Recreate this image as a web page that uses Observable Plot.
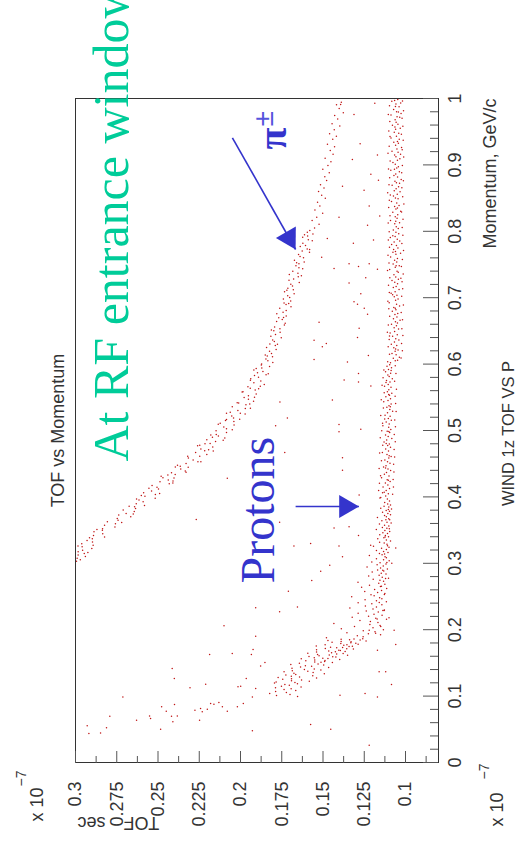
<!DOCTYPE html>
<html><head><meta charset="utf-8">
<script src="https://cdn.jsdelivr.net/npm/d3@7"></script>
<script src="https://cdn.jsdelivr.net/npm/@observablehq/plot@0.6"></script>
<style>
html,body{margin:0;padding:0;background:#fff;overflow:hidden;width:515px;height:847px;}
#rot{position:absolute;left:0;top:0;width:847px;height:515px;transform-origin:0 0;transform:translate(0px,847px) rotate(-90deg);}
</style></head><body><div id="rot"></div>
<script>
// Momentum (GeV/c), TOF (x 1e-7 s)
const flatBand = [
[0.9985,0.1047],[0.9971,0.1066],[0.9932,0.1029],[0.9918,0.1058],[0.9880,0.1061],[0.9874,0.1039],[0.9835,0.1072],[0.9801,0.1054],[0.9795,0.1043],[0.9752,0.1088],
[0.9724,0.1051],[0.9716,0.1035],[0.9680,0.1063],[0.9642,0.1057],[0.9611,0.1046],[0.9597,0.1079],[0.9553,0.1032],[0.9538,0.1060],[0.9492,0.1068],[0.9476,0.1041],
[0.9431,0.1055],[0.9427,0.1094],[0.9388,0.1038],[0.9352,0.1049],[0.9340,0.1071],[0.9296,0.1060],[0.9263,0.1024],[0.9241,0.1052],[0.9207,0.1082],[0.9189,0.1045],
[0.9150,0.1066],[0.9122,0.1058],[0.9093,0.1034],[0.9071,0.1049],[0.9036,0.1076],[0.9011,0.1062],[0.8974,0.1043],[0.8953,0.1053],[0.8921,0.1089],[0.8898,0.1037],
[0.8862,0.1059],[0.8840,0.1070],[0.8817,0.1048],[0.8779,0.1026],[0.8752,0.1064],[0.8733,0.1055],[0.8694,0.1081],[0.8671,0.1042],[0.8640,0.1057],[0.8612,0.1068],
[0.8596,0.1033],[0.8558,0.1050],[0.8531,0.1073],[0.8503,0.1061],[0.8489,0.1045],[0.8447,0.1085],[0.8425,0.1053],[0.8390,0.1039],[0.8372,0.1066],[0.8334,0.1058],
[0.8301,0.1029],[0.8287,0.1077],[0.8249,0.1047],[0.8218,0.1062],[0.8196,0.1051],[0.8163,0.1091],[0.8130,0.1036],[0.8112,0.1065],[0.8070,0.1056],[0.8044,0.1044],
[0.8021,0.1074],[0.9957,0.1083],[0.9773,0.1027],[0.9569,0.1064],[0.9325,0.1043],[0.9160,0.1030],[0.8936,0.1067],[0.8725,0.1036],[0.8547,0.1092],[0.8351,0.1049],[0.8152,0.1059],
[0.7987,0.1058],[0.7962,0.1041],[0.7934,0.1077],[0.7921,0.1063],[0.7880,0.1050],[0.7853,0.1035],[0.7839,0.1069],[0.7801,0.1084],[0.7786,0.1055],[0.7748,0.1046],
[0.7725,0.1072],[0.7697,0.1061],[0.7671,0.1030],[0.7655,0.1058],[0.7612,0.1090],[0.7590,0.1049],[0.7563,0.1066],[0.7538,0.1053],[0.7506,0.1075],[0.7481,0.1038],
[0.7459,0.1062],[0.7426,0.1096],[0.7398,0.1051],[0.7383,0.1044],[0.7345,0.1070],[0.7311,0.1059],[0.7294,0.1028],[0.7258,0.1082],[0.7233,0.1065],[0.7209,0.1048],
[0.7170,0.1057],[0.7152,0.1074],[0.7124,0.1039],[0.7090,0.1063],[0.7067,0.1087],[0.7038,0.1052],[0.7015,0.1068],[0.6981,0.1045],[0.6962,0.1060],[0.6925,0.1099],
[0.6903,0.1054],[0.6874,0.1036],[0.6851,0.1071],[0.6820,0.1058],[0.6796,0.1080],[0.6763,0.1047],[0.6747,0.1064],[0.6711,0.1052],[0.6684,0.1073],[0.6659,0.1033],
[0.6636,0.1061],[0.6602,0.1085],[0.6578,0.1055],[0.6549,0.1069],[0.6527,0.1042],[0.6490,0.1066],[0.6468,0.1093],[0.6441,0.1050],[0.6419,0.1078],[0.6383,0.1059],
[0.6362,0.1040],[0.6331,0.1067],[0.6300,0.1086],[0.6279,0.1053],[0.6247,0.1071],[0.6213,0.1045],[0.6194,0.1063],[0.6158,0.1082],[0.6140,0.1057],[0.6102,0.1037],
[0.6087,0.1074],[0.6052,0.1062],[0.6021,0.1091],[0.7906,0.1092],[0.7684,0.1076],[0.7480,0.1057],[0.7277,0.1043],[0.7044,0.1078],[0.6840,0.1062],[0.6618,0.1049],
[0.6425,0.1097],[0.6229,0.1060],[0.6058,0.1048],
[0.5991,0.1096],[0.5967,0.1112],[0.5944,0.1085],[0.5920,0.1103],[0.5883,0.1121],[0.5861,0.1090],[0.5834,0.1107],[0.5812,0.1099],[0.5779,0.1080],[0.5752,0.1115],
[0.5731,0.1094],[0.5694,0.1105],[0.5668,0.1127],[0.5650,0.1088],[0.5613,0.1101],[0.5585,0.1110],[0.5562,0.1083],[0.5530,0.1097],[0.5507,0.1119],[0.5479,0.1091],
[0.5451,0.1106],[0.5433,0.1132],[0.5398,0.1087],[0.5372,0.1100],[0.5349,0.1113],[0.5316,0.1095],[0.5291,0.1078],[0.5266,0.1109],[0.5230,0.1124],[0.5214,0.1093],
[0.5180,0.1104],[0.5153,0.1086],[0.5127,0.1117],[0.5098,0.1099],[0.5071,0.1137],[0.5049,0.1102],[0.5015,0.1089],[0.4990,0.1111],[0.4968,0.1096],[0.4932,0.1121],
[0.4911,0.1105],[0.4880,0.1083],[0.4858,0.1114],[0.4826,0.1130],[0.4797,0.1098],[0.4773,0.1108],[0.4749,0.1091],[0.4720,0.1120],[0.4691,0.1103],[0.4668,0.1140],
[0.4639,0.1112],[0.4610,0.1087],[0.4587,0.1101],[0.4556,0.1125],[0.4530,0.1109],[0.4508,0.1094],[0.4471,0.1118],[0.4452,0.1133],[0.4420,0.1106],[0.4397,0.1090],
[0.4368,0.1115],[0.4341,0.1128],[0.4315,0.1100],[0.4290,0.1145],[0.4259,0.1111],[0.4233,0.1093],[0.4209,0.1122],[0.4178,0.1107],[0.4150,0.1136],[0.4127,0.1097],
[0.4095,0.1117],[0.4071,0.1129],[0.4046,0.1104],[0.4012,0.1120],[0.3990,0.1150],[0.3968,0.1110],[0.3937,0.1097],[0.3915,0.1126],
[0.5905,0.1087],[0.5723,0.1118],[0.5541,0.1102],[0.5356,0.1092],[0.5172,0.1126],[0.4985,0.1101],[0.4803,0.1117],[0.4620,0.1099],[0.4436,0.1121],[0.4249,0.1104],[0.4063,0.1139],
[0.9963,0.1018],[0.9890,0.1097],[0.9815,0.1012],[0.9760,0.1104],[0.9702,0.1021],[0.9655,0.1095],[0.9583,0.1016],[0.9512,0.1101],[0.9460,0.1025],[0.9404,0.1088],
[0.9370,0.1014],[0.9282,0.1099],[0.9230,0.1020],[0.9176,0.1106],[0.9118,0.1011],[0.9058,0.1093],[0.8990,0.1019],[0.8937,0.1103],[0.8881,0.1023],[0.8806,0.1096],
[0.8760,0.1013],[0.8702,0.1100],[0.8655,0.1022],[0.8582,0.1108],[0.8519,0.1017],[0.8466,0.1098],[0.8410,0.1010],[0.8357,0.1102],[0.8291,0.1024],[0.8233,0.1094],
[0.8180,0.1015],[0.8124,0.1105],[0.8057,0.1020],[0.7993,0.1099],[0.7941,0.1016],[0.7870,0.1104],[0.7818,0.1022],[0.7760,0.1097],[0.7709,0.1012],[0.7640,0.1106],
[0.7576,0.1019],[0.7522,0.1100],[0.7470,0.1025],[0.7410,0.1109],[0.7357,0.1014],[0.7300,0.1095],[0.7241,0.1021],[0.7187,0.1103],[0.7133,0.1017],[0.7079,0.1098],
[0.7020,0.1023],[0.6948,0.1107],[0.6890,0.1013],[0.6833,0.1101],[0.6778,0.1026],[0.6720,0.1096],[0.6669,0.1018],[0.6590,0.1104],[0.6533,0.1022],[0.6480,0.1110],
[0.6430,0.1016],[0.6370,0.1099],[0.6312,0.1024],[0.6260,0.1105],[0.6201,0.1019],[0.6148,0.1097],[0.6090,0.1027],[0.6035,0.1108],
[0.5975,0.1062],[0.5910,0.1131],[0.5857,0.1058],[0.5795,0.1136],[0.5740,0.1066],[0.5680,0.1142],[0.5620,0.1055],[0.5570,0.1129],[0.5515,0.1063],[0.5462,0.1147],
[0.5405,0.1060],[0.5340,0.1134],[0.5285,0.1057],[0.5225,0.1150],[0.5160,0.1065],[0.5110,0.1139],[0.5055,0.1061],[0.4998,0.1144],[0.4940,0.1068],[0.4890,0.1153],
[0.4830,0.1062],[0.4778,0.1138],[0.4715,0.1069],[0.4660,0.1157],[0.4600,0.1066],[0.4545,0.1146],[0.4490,0.1072],[0.4428,0.1160],[0.4375,0.1070],[0.4320,0.1151],
[0.4262,0.1075],[0.4205,0.1158],[0.4150,0.1073],[0.4098,0.1163],[0.4040,0.1078],[0.3985,0.1155]
];
const protonBend = [
[0.3893,0.1108],[0.3878,0.1091],[0.3861,0.1130],[0.3849,0.1101],[0.3830,0.1150],[0.3816,0.1085],[0.3797,0.1117],[0.3785,0.1097],[0.3768,0.1139],[0.3750,0.1107],
[0.3733,0.1091],[0.3719,0.1127],[0.3702,0.1116],[0.3688,0.1170],[0.3670,0.1102],[0.3655,0.1096],[0.3639,0.1143],[0.3620,0.1112],[0.3607,0.1087],[0.3590,0.1158],
[0.3573,0.1127],[0.3560,0.1101],[0.3541,0.1140],[0.3527,0.1113],[0.3509,0.1177],[0.3494,0.1125],[0.3478,0.1096],[0.3461,0.1137],[0.3449,0.1109],[0.3430,0.1156],
[0.3417,0.1122],[0.3398,0.1103],[0.3384,0.1131],[0.3368,0.1168],[0.3350,0.1116],[0.3337,0.1091],[0.3318,0.1157],[0.3305,0.1129],[0.3287,0.1112],[0.3271,0.1211],
[0.3256,0.1194],[0.3240,0.1100],[0.3226,0.1145],[0.3209,0.1116],[0.3194,0.1176],[0.3178,0.1133],[0.3161,0.1106],[0.3147,0.1158],[0.3130,0.1142],[0.3116,0.1219],
[0.3099,0.1124],[0.3085,0.1116],[0.3068,0.1176],[0.3052,0.1133],[0.3039,0.1099],[0.3021,0.1204],[0.3008,0.1154],[0.2990,0.1118],[0.2977,0.1172],[0.2960,0.1135],
[0.2946,0.1233],[0.2929,0.1151],[0.2915,0.1110],[0.2899,0.1169],[0.2884,0.1132],[0.2870,0.1202],[0.2852,0.1147],[0.2838,0.1118],[0.2821,0.1160],[0.2807,0.1223],
[0.2790,0.1141],[0.2776,0.1103],[0.2760,0.1196],[0.2745,0.1155],[0.2729,0.1133],[0.2714,0.1288],[0.2698,0.1162],[0.2683,0.1125],[0.2669,0.1218],[0.2651,0.1152],
[0.2638,0.1266],[0.2621,0.1114],[0.2607,0.1187],[0.2590,0.1145],[0.2576,0.1247],[0.2559,0.1169],[0.2545,0.1125],[0.2528,0.1209],[0.2513,0.1190],[0.2498,0.1326],
[0.2482,0.1157],[0.2467,0.1143],[0.2450,0.1245],[0.2437,0.1176],[0.2420,0.1116],[0.2405,0.1287],[0.2389,0.1204],[0.2374,0.1143],[0.2358,0.1243],[0.2343,0.1176],
[0.2327,0.1337],[0.2311,0.1197],[0.2296,0.1128],[0.2281,0.1238],[0.2265,0.1165],[0.2249,0.1287],[0.2234,0.1191],[0.2219,0.1142],[0.2202,0.1224],[0.2188,0.1323],
[0.2171,0.1180],[0.2157,0.1115],[0.2140,0.1276],[0.2125,0.1213],[0.2109,0.1167],[0.2094,0.1434],[0.2078,0.1216],[0.2062,0.1154],[0.2047,0.1309],[0.2031,0.1197],
[0.2016,0.1389],[0.2001,0.1134],[0.1985,0.1256],[0.1970,0.1185],[0.1954,0.1355],[0.1939,0.1225],[0.1923,0.1151],[0.1908,0.1292],[0.1893,0.1257],[0.1877,0.1479],
[0.3810,0.1104],[0.3655,0.1119],[0.3520,0.1098],[0.3395,0.1124],[0.3263,0.1109],[0.3140,0.1127],[0.3012,0.1113],[0.2895,0.1138],[0.2770,0.1121],[0.2655,0.1146],
[0.2530,0.1128],[0.2410,0.1159],[0.2290,0.1137],[0.2160,0.1172],[0.2050,0.1150],[0.1945,0.1181]
];
const lowCloud = [
[0.1865,0.1259],[0.1856,0.1390],[0.1847,0.1339],[0.1839,0.1470],[0.1828,0.1239],[0.1821,0.1390],[0.1810,0.1445],[0.1802,0.1331],[0.1793,0.1392],[0.1781,0.1287],
[0.1775,0.1487],[0.1764,0.1374],[0.1755,0.1541],[0.1747,0.1342],[0.1736,0.1454],[0.1728,0.1417],[0.1717,0.1486],[0.1709,0.1316],[0.1699,0.1539],[0.1690,0.1404],
[0.1681,0.1465],[0.1672,0.1366],[0.1663,0.1539],[0.1652,0.1448],[0.1645,0.1592],[0.1633,0.1417],[0.1626,0.1533],[0.1615,0.1351],[0.1607,0.1524],[0.1598,0.1585],
[0.1589,0.1422],[0.1578,0.1553],[0.1570,0.1501],[0.1561,0.1632],[0.1550,0.1399],[0.1542,0.1550],[0.1533,0.1604],[0.1522,0.1490],[0.1514,0.1550],[0.1505,0.1443],
[0.1496,0.1643],[0.1485,0.1530],[0.1477,0.1695],[0.1468,0.1496],[0.1457,0.1607],[0.1449,0.1569],[0.1440,0.1636],[0.1430,0.1466],[0.1421,0.1688],[0.1410,0.1553],
[0.1402,0.1613],[0.1393,0.1513],[0.1383,0.1686],[0.1374,0.1592],[0.1366,0.1736],[0.1355,0.1560],[0.1346,0.1676],[0.1336,0.1492],[0.1327,0.1665],[0.1318,0.1725],
[0.1308,0.1562],[0.1300,0.1692],[0.1289,0.1642],[0.1280,0.1772],[0.1271,0.1539],[0.1261,0.1691],[0.1252,0.1744],[0.1243,0.1630],[0.1232,0.1691],[0.1224,0.1583],
[0.1214,0.1784],[0.1205,0.1670],[0.1196,0.1794],[0.1185,0.1655],[0.1175,0.1731],[0.1163,0.1704],[0.1150,0.1752],[0.1138,0.1633],[0.1126,0.1788],[0.1112,0.1693],
[0.1098,0.1736],[0.1083,0.1665],[0.1069,0.1787],[0.1054,0.1722],[0.1040,0.1823],[0.1024,0.1700],[0.1009,0.1782],[0.0993,0.1654],
[0.1860,0.1312],[0.1843,0.1275],[0.1818,0.1330],[0.1797,0.1301],[0.1772,0.1355],[0.1751,0.1322],[0.1733,0.1381],[0.1712,0.1356],[0.1688,0.1395],[0.1668,0.1425],
[0.1640,0.1378],[0.1619,0.1462],[0.1592,0.1441],[0.1566,0.1470],[0.1538,0.1488],[0.1511,0.1512]
];
const curvedBand = [
[0.9942,0.1389],[0.9905,0.1418],[0.9851,0.1402],[0.9786,0.1377],[0.9744,0.1429],[0.9690,0.1411],[0.9621,0.1445],[0.9587,0.1398],[0.9530,0.1432],[0.9469,0.1460],
[0.9431,0.1419],[0.9385,0.1441],[0.9310,0.1473],[0.9274,0.1430],[0.9218,0.1456],[0.9160,0.1439],[0.9102,0.1487],[0.9047,0.1452],[0.8991,0.1470],[0.8935,0.1501],
[0.8880,0.1462],[0.8822,0.1489],[0.8764,0.1478],[0.8700,0.1515],[0.8652,0.1494],[0.8601,0.1527],[0.8543,0.1508],[0.8497,0.1486],[0.8439,0.1533],[0.8382,0.1519],
[0.8321,0.1549],[0.8270,0.1502],[0.8212,0.1538],[0.8163,0.1566],[0.8105,0.1524],[0.8050,0.1551],[0.8011,0.1580],
[0.7985,0.1595],[0.7961,0.1561],[0.7930,0.1593],[0.7912,0.1623],[0.7874,0.1589],[0.7859,0.1565],[0.7820,0.1622],[0.7788,0.1606],[0.7771,0.1638],[0.7735,0.1596],
[0.7702,0.1626],[0.7686,0.1582],[0.7650,0.1648],[0.7621,0.1639],[0.7603,0.1618],[0.7564,0.1673],[0.7539,0.1614],[0.7511,0.1646],[0.7480,0.1664],[0.7452,0.1646],
[0.7437,0.1623],[0.7398,0.1683],[0.7370,0.1652],[0.7349,0.1704],[0.7315,0.1650],[0.7283,0.1678],[0.7262,0.1706],[0.7230,0.1644],[0.7201,0.1695],[0.7177,0.1685],
[0.7143,0.1713],[0.7120,0.1680],[0.7088,0.1733],[0.7059,0.1675],[0.7031,0.1714],[0.7004,0.1702],[0.6982,0.1740],[0.6950,0.1696],[0.6921,0.1736],[0.6897,0.1724],
[0.6864,0.1694],[0.6840,0.1762],[0.6809,0.1723],[0.6781,0.1742],[0.6759,0.1780],[0.6726,0.1723],[0.6698,0.1768],[0.6671,0.1747],[0.6640,0.1781],[0.6617,0.1729],
[0.6588,0.1734],[0.6560,0.1793],[0.6533,0.1761],[0.6512,0.1813],[0.6478,0.1760],[0.6445,0.1788],[0.6421,0.1816],[0.6395,0.1753],[0.6362,0.1805],[0.6339,0.1795],
[0.6304,0.1822],[0.6280,0.1789],[0.6251,0.1842],[0.6219,0.1784],[0.6194,0.1824],[0.6160,0.1812],[0.6138,0.1850],[0.6109,0.1806],[0.6077,0.1846],[0.6052,0.1834],
[0.6025,0.1804],[0.6003,0.1872],
[0.7947,0.1612],[0.7727,0.1581],[0.7528,0.1660],[0.7331,0.1631],[0.7112,0.1719],[0.6911,0.1708],[0.6701,0.1739],[0.6503,0.1798],[0.6298,0.1776],[0.6121,0.1838],
[0.5988,0.1874],[0.5962,0.1824],[0.5941,0.1871],[0.5910,0.1919],[0.5889,0.1864],[0.5853,0.1832],[0.5830,0.1915],[0.5801,0.1891],[0.5779,0.1938],[0.5744,0.1877],
[0.5718,0.1919],[0.5692,0.1856],[0.5660,0.1955],[0.5637,0.1941],[0.5609,0.1911],[0.5578,0.1990],[0.5551,0.1905],[0.5524,0.1952],[0.5496,0.1978],[0.5470,0.1952],
[0.5442,0.1921],[0.5413,0.2011],[0.5387,0.1967],[0.5356,0.2050],[0.5331,0.1971],[0.5302,0.2016],[0.5275,0.2062],[0.5249,0.1972],[0.5218,0.2053],[0.5190,0.2042],
[0.5166,0.2085],[0.5137,0.2040],[0.5108,0.2123],[0.5082,0.2039],[0.5053,0.2101],[0.5027,0.2085],[0.4998,0.2148],[0.4970,0.2085],[0.4941,0.2147],[0.4917,0.2134],
[0.4886,0.2095],[0.4860,0.2204],[0.4833,0.2151],[0.4805,0.2184],[0.4779,0.2247],[0.4750,0.2168],[0.4723,0.2240],[0.4694,0.2217],[0.4668,0.2272],[0.4640,0.2204],
[0.4612,0.2247],[0.4585,0.2316],[0.4557,0.2287],[0.4530,0.2258],[0.4502,0.2330],[0.4475,0.2382],[0.4448,0.2317],[0.4420,0.2362],[0.4391,0.2335],[0.4365,0.2418],
[0.4338,0.2396],[0.4310,0.2481],[0.4283,0.2403],[0.4255,0.2438],[0.4228,0.2488],[0.4199,0.2432],[0.4172,0.2536],[0.4145,0.2506],[0.4118,0.2497],[0.4090,0.2539],
[0.4063,0.2587],[0.4036,0.2516],[0.4008,0.2579],[0.3981,0.2517],[0.3953,0.2615],[0.3926,0.2590],
[0.5870,0.1897],[0.5630,0.1890],[0.5400,0.1944],[0.5150,0.2091],[0.4900,0.2170],[0.4710,0.2193],[0.4460,0.2365],[0.4240,0.2409],[0.4020,0.2601],[0.5260,0.2001],
[0.4800,0.2215],[0.4330,0.2440],
[0.5935,0.1905],[0.5840,0.1845],[0.5755,0.1940],[0.5667,0.1880],[0.5585,0.1985],[0.5500,0.1915],[0.5418,0.2020],[0.5336,0.1940],[0.5258,0.2085],[0.5170,0.2005],
[0.5095,0.2135],[0.5012,0.2050],[0.4933,0.2180],[0.4852,0.2105],[0.4770,0.2260],[0.4692,0.2165],[0.4612,0.2320],[0.4530,0.2240],[0.4452,0.2395],[0.4370,0.2330],
[0.4290,0.2470],[0.4210,0.2410],[0.4130,0.2555],[0.4050,0.2490],[0.3970,0.2630],
[0.3898,0.2632],[0.3871,0.2582],[0.3852,0.2642],[0.3826,0.2636],[0.3801,0.2711],[0.3779,0.2644],[0.3750,0.2693],[0.3728,0.2738],[0.3700,0.2665],[0.3676,0.2747],
[0.3648,0.2742],[0.3625,0.2807],[0.3597,0.2758],[0.3573,0.2824],[0.3548,0.2761],[0.3521,0.2836],[0.3497,0.2837],[0.3474,0.2888],[0.3446,0.2835],[0.3420,0.2891],
[0.3395,0.2824],[0.3370,0.2898],[0.3344,0.2930],[0.3321,0.2897],[0.3296,0.2962],[0.3270,0.2893],[0.3248,0.2960],[0.3222,0.2901],[0.3197,0.2957],[0.3175,0.2984],
[0.3149,0.2947],[0.3126,0.2984],[0.3101,0.2940],[0.3077,0.2990],[0.3055,0.2971],[0.3032,0.2994],
[0.3860,0.2675],[0.3742,0.2650],[0.3615,0.2720],[0.3510,0.2870],[0.3385,0.2915],[0.3260,0.2985],[0.3162,0.2925]
];
const scatter = [
[0.991,0.1393],[0.993,0.1186],[0.976,0.1312],[0.932,0.1275],[0.915,0.1170],[0.908,0.1322],[0.886,0.1210],[0.877,0.1164],[0.868,0.1382],[0.862,0.1251],
[0.838,0.1220],[0.823,0.1156],[0.821,0.1403],[0.809,0.1230],
[0.744,0.1433],[0.751,0.1342],[0.747,0.1285],[0.751,0.1220],[0.743,0.1170],[0.722,0.1342],[0.730,0.1241],[0.706,0.1271],[0.694,0.1312],[0.690,0.1291],
[0.684,0.1250],[0.675,0.1230],[0.663,0.1524],[0.654,0.1281],[0.640,0.1291],[0.636,0.1554],[0.631,0.1480],[0.626,0.1504],[0.613,0.1225],[0.607,0.1554],
[0.603,0.1352],[0.787,0.1194],[0.782,0.1316],[0.789,0.1474],[0.761,0.1508],
[0.576,0.1372],[0.586,0.1285],[0.573,0.1285],[0.567,0.1210],[0.546,0.1443],[0.543,0.1761],[0.519,0.1716],[0.507,0.1787],[0.509,0.1403],[0.502,0.1271],
[0.498,0.1403],[0.467,0.1732],[0.459,0.1382],[0.440,0.1382],[0.428,0.2080],[0.403,0.1281],
[0.366,0.2268],[0.362,0.1763],[0.326,0.1676],[0.330,0.1575],[0.353,0.1433],[0.355,0.1342],[0.342,0.1285],[0.326,0.1403],[0.310,0.1382],[0.297,0.1459],
[0.288,0.1514],[0.274,0.1568],[0.258,0.1710],[0.233,0.1908],[0.227,0.1763],[0.234,0.1655],[0.206,0.2100],[0.190,0.1908],[0.218,0.1100],[0.323,0.1059],
[0.300,0.1083],[0.199,0.1069],[0.229,0.1130],[0.199,0.1220],
[0.0552,0.2929],[0.0436,0.2919],[0.0446,0.2848],[0.0522,0.2812],[0.0697,0.2792],[0.0988,0.2713],[0.0637,0.2630],[0.0702,0.2551],[0.0662,0.2545],[0.0502,0.2484],
[0.0838,0.2478],[0.0773,0.2450],[0.0697,0.2418],[0.0612,0.2410],[0.0873,0.2400],[0.1415,0.2414],[0.1265,0.2401],[0.0702,0.2383],[0.1124,0.2306],[0.0788,0.2276],
[0.0637,0.2248],[0.0813,0.2242],[0.0763,0.2232],[0.1179,0.2211],[0.0803,0.2201],[0.1626,0.2187],[0.0888,0.2181],[0.0878,0.2161],[0.0903,0.2131],[0.0838,0.2110],
[0.0773,0.2080],[0.1641,0.2050],[0.0838,0.2019],[0.1139,0.2015],[0.1149,0.1999],[0.0888,0.1983],[0.1265,0.1965],[0.1626,0.1934],[0.0988,0.1928],[0.1701,0.1924],
[0.0477,0.1928],[0.1114,0.1908],[0.1455,0.1878],[0.1506,0.1852],[0.0572,0.1575],[0.0502,0.1453],[0.0261,0.1220],[0.1014,0.1397],[0.1039,0.1245],[0.0988,0.1170],
[0.1174,0.1085],[0.1365,0.1120],[0.1777,0.1059],[0.1691,0.1170],[0.1365,0.1160]
];

const momentumMajor = [0,0.1,0.2,0.3,0.4,0.5,0.6,0.7,0.8,0.9,1];
const momentumLabels = ["0","0.1","0.2","0.3","0.4","0.5","0.6","0.7","0.8","0.9","1"];
const momentumMinor = [0.02,0.04,0.06,0.08,0.12,0.14,0.16,0.18,0.22,0.24,0.26,0.28,0.32,0.34,0.36,0.38,0.42,0.44,0.46,0.48,
  0.52,0.54,0.56,0.58,0.62,0.64,0.66,0.68,0.72,0.74,0.76,0.78,0.82,0.84,0.86,0.88,0.92,0.94,0.96,0.98];
const tofMajor = [0.1,0.125,0.15,0.175,0.2,0.225,0.25,0.275,0.3];
const tofLabels = ["0.1","0.125","0.15","0.175","0.2","0.225","0.25","0.275","0.3"];
const tofMinor = [0.0875,0.1125,0.1375,0.1625,0.1875,0.2125,0.2375,0.2625,0.2875];

// annotation anchor points in data units
const greenNote = [{p:0.4533, t:0.2679, text:"At RF entrance window"}];
const protonNote = [{p:0.2696, t:0.1799, text:"Protons"}];
const pionNote = [{p:0.9232, t:0.1722, text:"π"}];
const pionSign = [{p:0.9578, t:0.1805, text:"±"}];
const arrows = [
  {p1:0.3855, t1:0.1666, p2:0.3855, t2:0.1282},
  {p1:0.9408, t1:0.2049, p2:0.7726, t2:0.1666}
];

const points = [...flatBand, ...protonBend, ...lowCloud, ...curvedBand, ...scatter].map(([p, t]) => ({p, t}));

const blue = "#3434cc";
const sans = "'Liberation Sans', Arial, Helvetica, sans-serif";
const serif = "'Liberation Serif', 'Times New Roman', serif";

const chart = Plot.plot({
  width: 847, height: 515,
  marginLeft: 84, marginRight: 99, marginTop: 75, marginBottom: 77,
  x: {domain: [0, 1], label: null},
  y: {domain: [0.08, 0.3], label: null},
  style: {fontFamily: sans, fontSize: "18px", color: "#333", background: "#fff", overflow: "visible"},
  marks: [
    Plot.dot(points, {x: "p", y: "t", r: 0.75, fill: "#bf1414", stroke: null}),
    Plot.frame({stroke: "#333", strokeWidth: 1}),
    Plot.axisX(momentumMajor, {anchor: "bottom", tickSize: -15, fill: "none", stroke: "#555", label: null}),
    Plot.axisX(momentumMinor, {anchor: "bottom", tickSize: -8, fill: "none", stroke: "#555", label: null}),
    Plot.axisX(momentumMajor, {anchor: "bottom", tickSize: 0, tickPadding: 10, fill: "#333", label: null,
      tickFormat: d => momentumLabels[momentumMajor.indexOf(d)]}),
    Plot.axisY(tofMajor, {anchor: "left", tickSize: -12, fill: "none", stroke: "#555", label: null}),
    Plot.axisY(tofMinor, {anchor: "left", tickSize: -7, fill: "none", stroke: "#555", label: null}),
    Plot.axisY(tofMajor, {anchor: "left", tickSize: 0, tickPadding: 19, fill: "#333", label: null,
      tickFormat: d => tofLabels[tofMajor.indexOf(d)]}),
    Plot.text(["TOF vs Momentum"], {frameAnchor: "top", dy: -12, lineAnchor: "bottom", fontSize: 18, fill: "#333"}),
    Plot.text(["WIND 1z TOF VS P"], {frameAnchor: "bottom", dx: -3, dy: 75, lineAnchor: "bottom", fontSize: 16.5, fill: "#333"}),
    Plot.text(["Momentum, GeV/c"], {frameAnchor: "bottom-right", textAnchor: "end", dy: 57, lineAnchor: "bottom", fontSize: 18, fill: "#333"}),
    Plot.text(["TOF\u2003sec"], {frameAnchor: "top-left", rotate: -90, textAnchor: "end", lineAnchor: "bottom", dx: -54, dy: 2, fontSize: 18, fill: "#333"}),
    Plot.text(["x 10"], {frameAnchor: "top-left", textAnchor: "start", lineAnchor: "bottom", dx: -59, dy: -33, fontSize: 18, fill: "#333"}),
    Plot.text(["\u22127"], {frameAnchor: "top-left", textAnchor: "start", lineAnchor: "bottom", dx: -24, dy: -50, fontSize: 14, fill: "#333"}),
    Plot.text(["x 10"], {frameAnchor: "bottom-left", textAnchor: "start", lineAnchor: "bottom", dx: -64, dy: 64, fontSize: 18, fill: "#333"}),
    Plot.text(["\u22127"], {frameAnchor: "bottom-left", textAnchor: "start", lineAnchor: "bottom", dx: -17, dy: 50, fontSize: 14, fill: "#333"}),
    Plot.text(greenNote, {x: "p", y: "t", text: "text", textAnchor: "start", lineAnchor: "bottom", fontFamily: serif, fontSize: 50, fill: "#00cc99"}),
    Plot.text(protonNote, {x: "p", y: "t", text: "text", textAnchor: "start", lineAnchor: "bottom", fontFamily: serif, fontSize: 48, fill: blue}),
    Plot.text(pionNote, {x: "p", y: "t", text: "text", textAnchor: "start", lineAnchor: "bottom", fontFamily: serif, fontWeight: "bold", fontSize: 40, fill: blue}),
    Plot.text(pionSign, {x: "p", y: "t", text: "text", textAnchor: "start", lineAnchor: "bottom", fontFamily: sans, fontSize: 28, fill: "#5555dd"}),
    Plot.link(arrows, {x1: "p1", y1: "t1", x2: "p2", y2: "t2", stroke: blue, strokeWidth: 1.6}),
    Plot.dot([arrows[0]], {x: "p2", y: "t2", symbol: "triangle", r: 8.5, fill: blue, stroke: null, rotate: 180, dx: 0, dy: -13.2}),
    Plot.dot([arrows[1]], {x: "p2", y: "t2", symbol: "triangle", r: 8.5, fill: blue, stroke: null, rotate: 240.5, dx: 11.5, dy: -6.5})
  ]
});
document.getElementById("rot").appendChild(chart);
</script></body></html>
